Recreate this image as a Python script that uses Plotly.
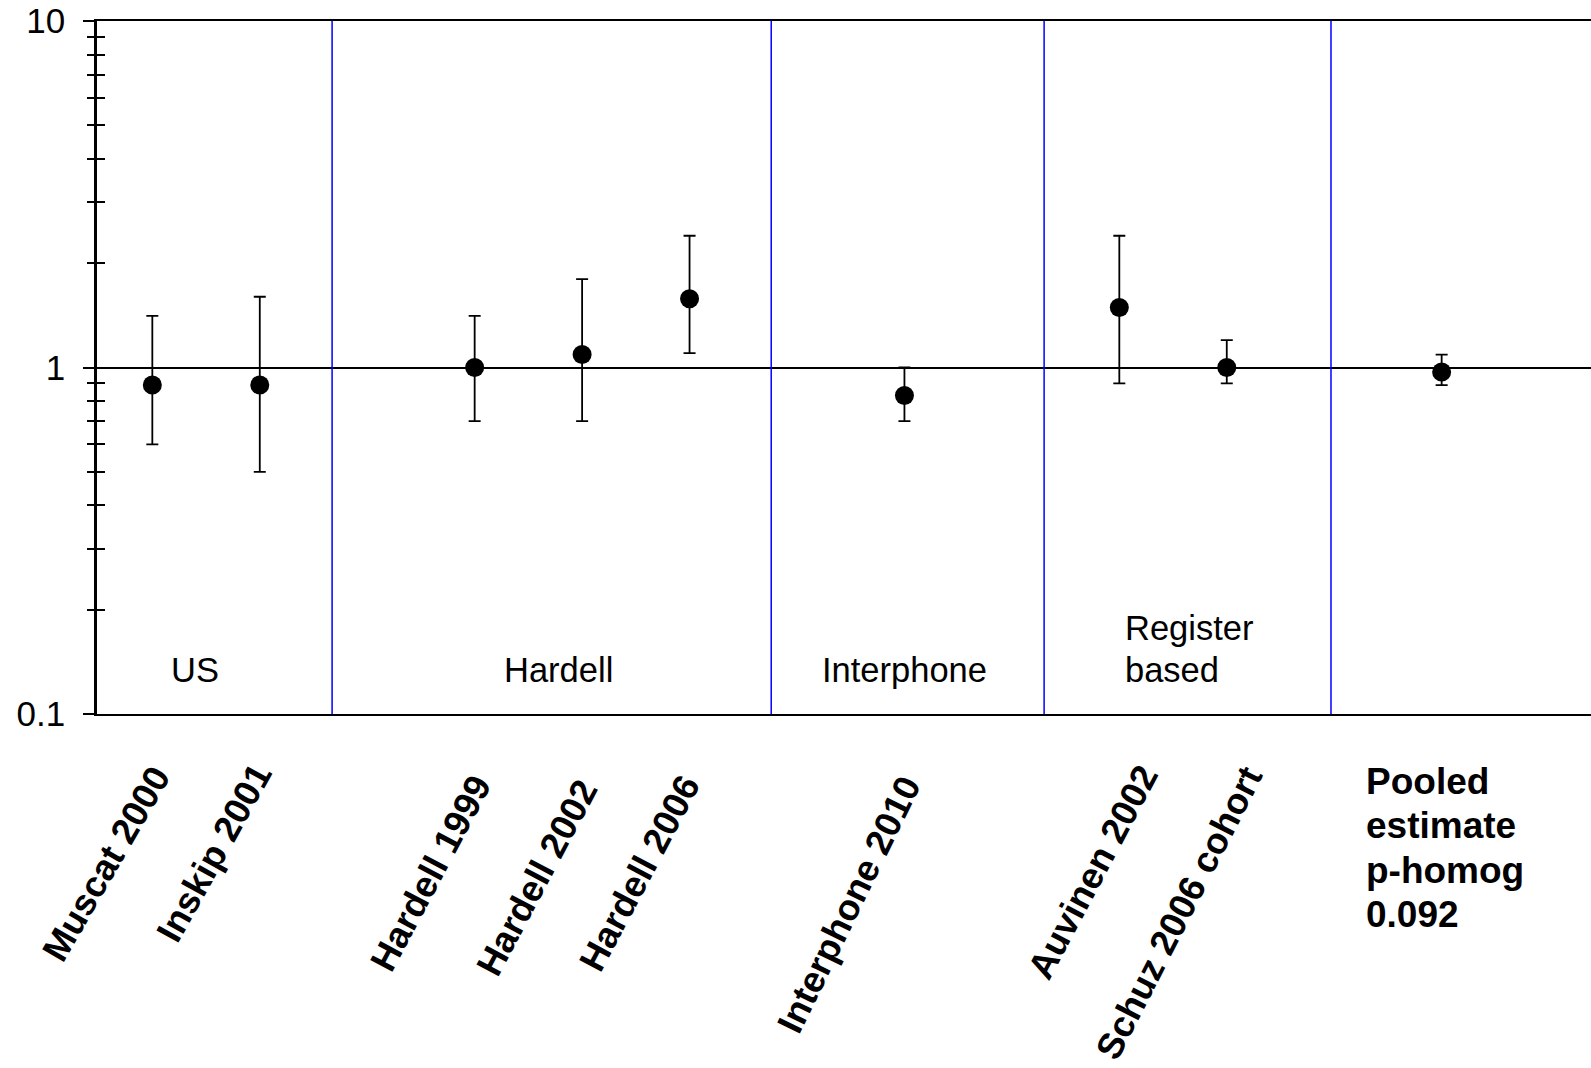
import plotly.graph_objects as go

# ---- data ----
studies = ["Muscat 2000", "Inskip 2001", "Hardell 1999", "Hardell 2002", "Hardell 2006",
           "Interphone 2010", "Auvinen 2002", "Schuz 2006 cohort", "Pooled"]
positions = [0, 1, 3, 4, 5, 7, 9, 10, 12]
estimate = [0.89, 0.89, 1.0, 1.09, 1.58, 0.83, 1.49, 1.0, 0.97]
upper = [1.41, 1.60, 1.41, 1.80, 2.40, 1.0, 2.40, 1.20, 1.09]
lower = [0.60, 0.50, 0.70, 0.70, 1.10, 0.70, 0.90, 0.90, 0.89]

group_lines = [["US"], ["Hardell"], ["Interphone"], ["Register", "based"]]
group_x = [0.40, 3.78, 7.0, 9.03]
group_dividers = [1.673, 5.76, 8.30, 10.97]

pooled_lines = ["Pooled", "estimate", "p-homog", "0.092"]

y_tickvals = [0.1, 1, 10]
y_ticktext = ["0.1", "1", "10"]
y_minor = [0.2, 0.3, 0.4, 0.5, 0.6, 0.7, 0.8, 0.9, 2, 3, 4, 5, 6, 7, 8, 9]

# ---- styles ----
label_dx = [29, 23, 27, 26, 21, 27, 49, 47]
label_dy = [-43, -40, -52, -56, -52, -53, -42, -43]
label_angle = [-60, -61, -62, -62, -62, -64, -62, -63]
FONT = "Liberation Sans, Arial, sans-serif"

fig = go.Figure()
fig.add_trace(go.Scatter(
    x=positions, y=estimate, mode="markers",
    marker=dict(color="black", size=19),
    error_y=dict(type="data", symmetric=False,
                 array=[u - e for u, e in zip(upper, estimate)],
                 arrayminus=[e - l for e, l in zip(estimate, lower)],
                 color="black", thickness=1.8, width=6),
    showlegend=False, hoverinfo="skip",
))
# invisible trace on overlay axis for inside ticks
fig.add_trace(go.Scatter(x=[positions[0]], y=[estimate[0]], yaxis="y2",
                         mode="markers", marker=dict(opacity=0), showlegend=False,
                         hoverinfo="skip"))

for xd in group_dividers:
    fig.add_shape(type="line", xref="x", yref="paper", x0=xd, x1=xd, y0=0, y1=1,
                  line=dict(color="#0000FF", width=1.5), layer="above")

for lines, gx in zip(group_lines, group_x):
    n = len(lines)
    for j, line in enumerate(lines):
        fig.add_annotation(x=gx, y=0.0635, xref="x", yref="paper",
                           text=line, showarrow=False,
                           xanchor="left" if n > 1 else "center",
                           yanchor="middle", yshift=42 * (n - 1 - j),
                           font=dict(size=34.5, color="black", family=FONT))

for i, name in enumerate(studies[:-1]):
    fig.add_annotation(x=positions[i], y=0, xref="x", yref="paper",
                       text="<b>%s</b>" % name, showarrow=False,
                       textangle=label_angle[i],
                       xanchor="right", yanchor="top",
                       xshift=label_dx[i], yshift=label_dy[i],
                       font=dict(size=36.5, color="black", family=FONT))

for j, line in enumerate(pooled_lines):
    fig.add_annotation(x=11.28, y=0, xref="x", yref="paper",
                       text="<b>%s</b>" % line, showarrow=False,
                       xanchor="left", yanchor="middle", yshift=-67 - 44.6 * j,
                       font=dict(size=37, color="black", family=FONT))

yaxis_common = dict(type="log", range=[-1, 1], tickvals=y_tickvals,
                    ticklen=11, tickwidth=1.5, tickcolor="black")

fig.update_layout(
    width=1591, height=1068,
    margin=dict(l=97, r=0, t=21, b=354),
    paper_bgcolor="white", plot_bgcolor="white",
    font=dict(family=FONT, size=34, color="black"),
    xaxis=dict(range=[-0.515, 13.39], showgrid=False, zeroline=False,
               showticklabels=False, ticks="", showline=True, linecolor="black",
               linewidth=2, mirror=True),
    yaxis=dict(**yaxis_common, ticktext=y_ticktext, ticks="outside",
               showline=True, linecolor="black", linewidth=2.5, mirror=False,
               showgrid=True, gridcolor="black", gridwidth=1.5, zeroline=False,
               ticklabelstandoff=11,
               tickfont=dict(size=35, color="black", family=FONT),
               minor=dict(tickvals=y_minor, ticks="outside", ticklen=7,
                          tickwidth=1.5, tickcolor="black", showgrid=False)),
    yaxis2=dict(**yaxis_common, overlaying="y", side="left", ticks="inside",
                showticklabels=False, showgrid=False, showline=False, zeroline=False,
                minor=dict(tickvals=y_minor, ticks="inside", ticklen=8,
                           tickwidth=1.5, tickcolor="black", showgrid=False)),
)

fig.write_html("out.html")
